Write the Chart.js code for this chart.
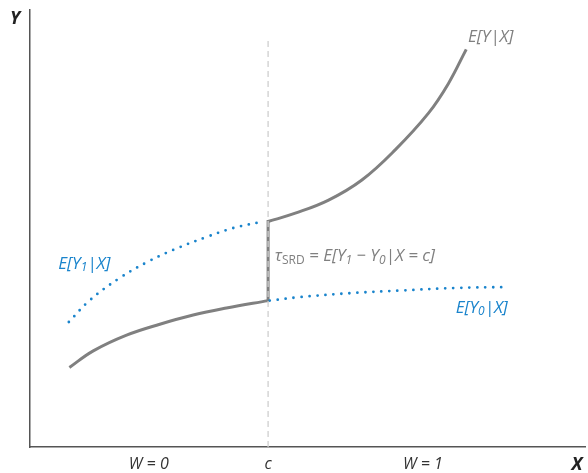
<!DOCTYPE html>
<html>
<head>
<meta charset="utf-8">
<title>Sharp RD</title>
<script src="https://cdn.jsdelivr.net/npm/chart.js@4.4.1/dist/chart.umd.min.js"></script>
<style>
  html, body { margin: 0; padding: 0; background: #fff; }
  #wrap { width: 588px; height: 473px; position: relative; }
</style>
</head>
<body>
<div id="wrap"><canvas id="rdChart"></canvas></div>
<script>
// x and y are in plot units 0..100
const cutoff = 42.9;

// E[Y|X] below the cutoff (W = 0)
const obsLeftX = [7.1, 11.4, 17.4, 23.4, 29.4, 35.4, 42.9];
const obsLeftY = [18.2, 22.0, 25.6, 28.1, 30.2, 31.8, 33.5];

// jump at the cutoff
const jumpY = [33.5, 51.6];

// E[Y|X] above the cutoff (W = 1)
const obsRightX = [42.9, 47.8, 53.8, 59.8, 65.8, 71.8, 75.4, 78.6];
const obsRightY = [51.6, 53.5, 56.5, 61.1, 68.0, 76.4, 83.2, 91.0];

// E[Y1|X] counterfactual left of the cutoff
const y1X = [7.0, 10.8, 16.2, 21.1, 25.8, 31.9, 36.6, 41.6];
const y1Y = [28.6, 33.6, 38.7, 42.3, 45.1, 48.1, 50.1, 51.5];

// E[Y0|X] counterfactual right of the cutoff
const y0X = [43.2, 48.6, 57.7, 66.7, 76.9, 85.8];
const y0Y = [33.5, 34.3, 35.2, 35.8, 36.4, 36.6];

// cutoff guide line
const guideY = [0, 93.1];

// x axis labels
const tickVals = [21.4, cutoff, 70.8];
const tickText = ['W = 0', 'c', 'W = 1'];

const GRAY = '#808080';
const BLUE = '#1a84cc';
const FONT = '"Open Sans", "Noto Sans", sans-serif';

function pts(xs, ys) {
  return xs.map((x, i) => ({ x, y: ys[i] }));
}

// label anchors (plot units), parts: [text, sub?, upright?]
const labels = [
  { x: 78.9, y: 93.8, color: GRAY, parts: [['E[Y|X]']] },
  { x: 5.1, y: 41.9, color: BLUE, parts: [['E[Y'], ['1', true], ['|X]']] },
  { x: 76.7, y: 31.8, color: BLUE, parts: [['E[Y'], ['0', true], ['|X]']] },
  { x: 44.1, y: 43.6, color: GRAY, parts: [['\u03c4'], ['SRD', true, true], [' = E[Y'], ['1', true], [' \u2212 Y'], ['0', true], ['|X = c]']] }
];

const textPlugin = {
  id: 'rdText',
  afterDraw(chart) {
    const ctx = chart.ctx;
    const sx = chart.scales.x, sy = chart.scales.y;
    ctx.save();
    ctx.textBaseline = 'middle';
    ctx.textAlign = 'left';
    labels.forEach(l => {
      let px = sx.getPixelForValue(l.x);
      const py = sy.getPixelForValue(l.y);
      ctx.fillStyle = l.color;
      l.parts.forEach(([t, sub, upright]) => {
        ctx.font = (upright ? '' : 'italic ') + (sub ? '12px ' : '17px ') + FONT;
        ctx.fillText(t, px, sub ? py + 4 : py);
        px += ctx.measureText(t).width;
      });
    });
    // axis titles
    ctx.fillStyle = '#222';
    ctx.font = 'italic bold 18px ' + FONT;
    ctx.textAlign = 'center';
    ctx.fillText('Y', 15, 19);
    ctx.fillText('X', 577, 465);
    ctx.restore();
  }
};

const solid = {
  showLine: true, borderColor: GRAY, borderWidth: 3, pointRadius: 0,
  tension: 0.4, fill: false
};
const dotted = {
  showLine: true, borderColor: BLUE, borderWidth: 2.8, pointRadius: 0,
  borderDash: [0, 8], borderCapStyle: 'round',
  tension: 0.4, fill: false
};

new Chart(document.getElementById('rdChart'), {
  type: 'scatter',
  data: {
    datasets: [
      { label: 'cutoff', data: pts([cutoff, cutoff], guideY), showLine: true,
        borderColor: '#cfcfcf', borderWidth: 1.3, borderDash: [6, 4], pointRadius: 0 },
      Object.assign({ label: 'E[Y1|X]', data: pts(y1X, y1Y) }, dotted),
      Object.assign({ label: 'E[Y0|X]', data: pts(y0X, y0Y) }, dotted),
      Object.assign({ label: 'E[Y|X] W=0', data: pts(obsLeftX, obsLeftY) }, solid),
      Object.assign({ label: 'jump', data: pts([cutoff, cutoff], jumpY) }, solid, { tension: 0, borderCapStyle: 'square' }),
      Object.assign({ label: 'E[Y|X] W=1', data: pts(obsRightX, obsRightY) }, solid)
    ]
  },
  options: {
    responsive: true,
    maintainAspectRatio: false,
    animation: false,
    layout: { padding: { left: 30, top: 10, right: 3, bottom: 0 } },
    plugins: { legend: { display: false }, tooltip: { enabled: false } },
    scales: {
      x: {
        type: 'linear', min: 0, max: 100,
        grid: { display: false, drawTicks: false },
        border: { display: true, color: '#555', width: 1.5 },
        afterBuildTicks: s => { s.ticks = tickVals.map(v => ({ value: v })); },
        afterFit: s => { s.height = 26; },
        ticks: {
          padding: 8, color: '#333',
          font: { family: FONT, size: 16, style: 'italic' },
          callback: (v, i) => tickText[i]
        }
      },
      y: {
        type: 'linear', min: 0, max: 100,
        grid: { display: false, drawTicks: false },
        border: { display: true, color: '#555', width: 1.5 },
        ticks: { display: false },
        afterFit: s => { s.width = 0; }
      }
    }
  },
  plugins: [textPlugin]
});
</script>
</body>
</html>
